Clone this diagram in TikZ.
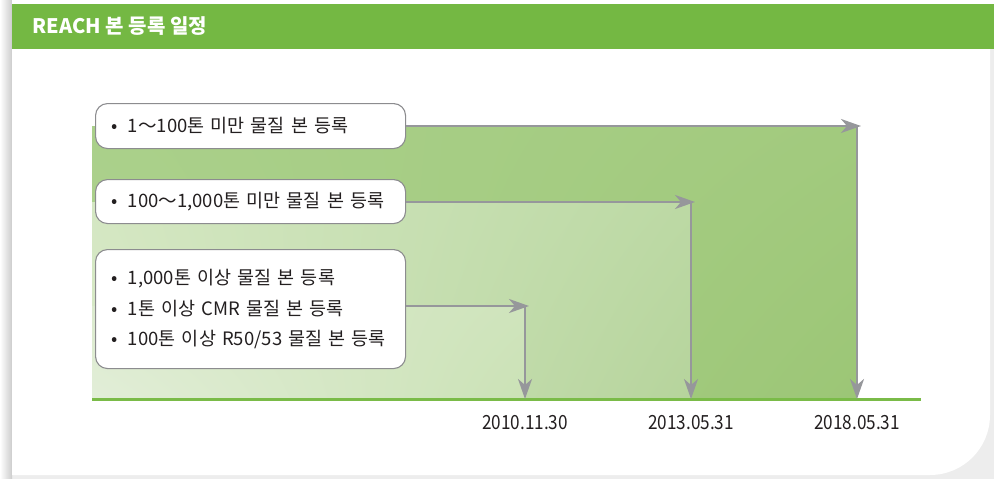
\documentclass[tikz,border=0pt]{standalone}
\usepackage{fontspec}
\setmainfont{Noto Sans CJK KR}
\newfontfamily\datefont[FakeStretch=0.88]{Noto Sans CJK KR}
\usepackage{tikz}
\usetikzlibrary{arrows.meta,positioning,calc,shadings}
\definecolor{headgreen}{RGB}{116,184,67}
\definecolor{basegreen}{RGB}{122,187,72}
\definecolor{arrowgray}{RGB}{150,151,155}
\definecolor{boxgray}{RGB}{140,140,143}
\definecolor{datetext}{RGB}{35,31,32}

\begin{document}
\begin{tikzpicture}[x=1pt, y=-1pt,
    phasebox/.style={
        rectangle, draw=boxgray, line width=1.1pt, fill=white,
        rounded corners=12pt, anchor=north west,
        minimum width=310pt, text width=278pt, inner xsep=16pt,
        align=left, text=datetext, font=\fontsize{18.5}{30.5}\selectfont
    },
    arrow/.style={-{Stealth[length=20pt,width=14pt,inset=6pt]}, line width=2pt, arrowgray},
    datelabel/.style={font=\datefont\fontsize{19.5}{21}\selectfont, text=datetext}
]

% Frame
\fill[black!7] (0,0) rectangle (994,479);
\shade[left color=white, right color=black!20] (0,0) rectangle (12,479);
\fill[white] (12,0) rectangle (994,4);
\fill[white] (12,49) -- (990,49) -- (990,415) to[out=-90, in=0] (930,475) -- (12,475) -- cycle;

% Title bar
\fill[headgreen] (12,4) rectangle (994,49);
\node[anchor=west, text=white, font=\fontsize{20}{22}\selectfont\bfseries] (title) at (29,26.5) {REACH 본 등록 일정};

% Deadlines
\coordinate (base0) at (92,399);
\coordinate (base1) at (921,399);
\coordinate (t1) at (525,306);
\coordinate (d1) at (525,399);
\coordinate (t2) at (691,202);
\coordinate (d2) at (691,399);
\coordinate (t3) at (857,126);
\coordinate (d3) at (857,399);

% Shaded periods
\shade[upper left={rgb,255:red,170;green,208;blue,138}, upper right={rgb,255:red,162;green,202;blue,126},
       lower left={rgb,255:red,174;green,210;blue,144}, lower right={rgb,255:red,156;green,198;blue,118}]
    (base0 |- t3) rectangle (d3);
\shade[upper left={rgb,255:red,212;green,231;blue,194}, upper right={rgb,255:red,188;green,217;blue,164},
       lower left={rgb,255:red,216;green,233;blue,200}, lower right={rgb,255:red,182;green,212;blue,156}]
    (base0 |- t2) rectangle (d2);
\shade[upper left={rgb,255:red,219;green,234;blue,205}, upper right={rgb,255:red,207;green,228;blue,188},
       lower left={rgb,255:red,226;green,238;blue,216}, lower right={rgb,255:red,203;green,226;blue,182}]
    (base0 |- t1) rectangle (d1);

\draw[line width=3pt, basegreen] (base0) -- (base1);

% Registration groups
\node[phasebox, minimum height=45pt] (small) at (95,103) {•\hspace{4pt} 1～100톤 미만 물질 본 등록};
\node[phasebox, minimum height=44pt] (medium) at (95,179) {•\hspace{4pt} 100～1,000톤 미만 물질 본 등록};
\node[phasebox, minimum height=119pt] (large) at (95,249) {
    •\hspace{4pt} 1,000톤 이상 물질 본 등록\\
    •\hspace{4pt} 1톤 이상 CMR 물질 본 등록\\
    •\hspace{4pt} 100톤 이상 R50/53 물질 본 등록
};

% Arrows to deadlines
\draw[arrow, shorten >=-4pt] (small.east |- t3) -- (t3);
\draw[arrow] (t3) -- (d3);
\draw[arrow, shorten >=-4pt] (medium.east |- t2) -- (t2);
\draw[arrow] (t2) -- (d2);
\draw[arrow, shorten >=-4pt] (large.east |- t1) -- (t1);
\draw[arrow] (t1) -- (d1);

% Dates
\node[datelabel, below=13pt of d1] (date1) {2010.11.30};
\node[datelabel, below=13pt of d2] (date2) {2013.05.31};
\node[datelabel, below=13pt of d3] (date3) {2018.05.31};

\end{tikzpicture}
\end{document}
